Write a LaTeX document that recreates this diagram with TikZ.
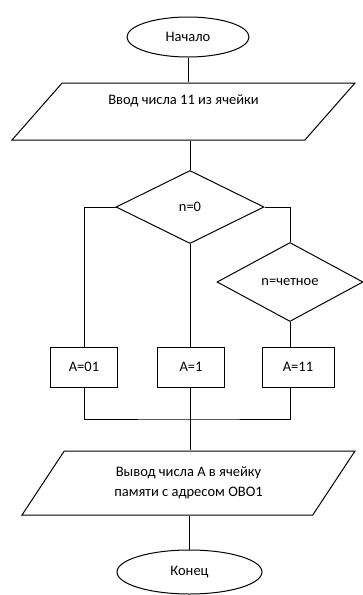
\documentclass[tikz,border=0pt]{standalone}
\usepackage{fontspec}
\setmainfont{Carlito}
\usetikzlibrary{shapes.geometric}

\tikzset{
  term/.style={draw, ellipse, line width=1pt, inner sep=0pt},
  io/.style={draw, trapezium, trapezium stretches body, line width=1pt, inner sep=0pt, align=center},
  cond/.style={draw, diamond, line width=1pt, inner sep=0pt},
  op/.style={draw, rectangle, line width=1pt, minimum height=40pt},
  line/.style={line width=0.7pt}
}

\begin{document}
\begin{tikzpicture}[x=1pt,y=-1pt,font=\fontsize{14.5}{20}\selectfont]
\useasboundingbox (0,0) rectangle (363,595);

\node (start) [term, minimum width=122pt, minimum height=40pt] at (188,37) {Начало};

\node (in) [io, trapezium left angle=34, trapezium right angle=146,
  minimum width=343pt, minimum height=57pt] at (183.5,111.5) {Ввод числа 11 из ячейки\\[4pt]};

\node (d1) [cond, minimum width=148pt, minimum height=73pt] at (190,207) {n=0};
\node (d2) [cond, minimum width=146pt, minimum height=79pt] at (290,282) {n=четное};

\node (b1) [op, minimum width=67pt] at (84,367) {A=01};
\node (b2) [op, minimum width=67pt] at (191,367) {A=1};
\node (b3) [op, minimum width=72pt] at (298,367) {A=11};

\node (out) [io, trapezium left angle=37.3, trapezium right angle=142.7,
  minimum width=333pt, minimum height=64pt] at (188.5,483) {Вывод числа А в ячейку\\памяти с адресом ОВО1};

\node (end) [term, minimum width=145pt, minimum height=44pt] at (189.5,572) {Конец};

\coordinate (j) at (190,419);

\draw[line] (start) -- (start.south |- in.north);
\draw[line] (d1.north |- in.south) -- (d1);
\draw[line] (d1.west) -| (b1.north);
\draw[line] (d1.east) -| (d2.north);
\draw[line] (d1.south) -- (d1.south |- b2.north);
\draw[line] (d2.south) -- (d2.south |- b3.north);
\draw[line] (b1.south) |- (j) -| (d2.south |- b3.south);
\draw[line] (j |- b2.south) -- (j |- out.north);
\draw[line] (end.north |- out.south) -- (end);

\end{tikzpicture}
\end{document}
